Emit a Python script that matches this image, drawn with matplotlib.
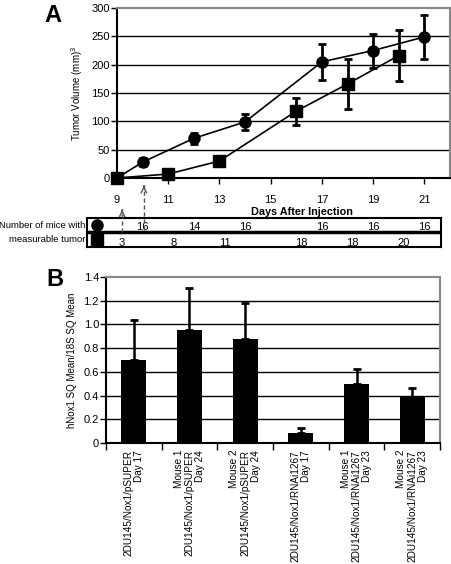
import matplotlib
matplotlib.use('Agg')
import matplotlib.pyplot as plt
from matplotlib.transforms import blended_transform_factory

# panel A: tumour volume
circle_days = [9, 10, 12, 14, 17, 19, 21]
circle_vol = [0, 28, 70, 99, 205, 225, 249]
circle_err = [0, 7, 10, 14, 32, 30, 39]
square_days = [9, 11, 13, 16, 18, 20]
square_vol = [0, 7, 30, 118, 166, 216]
square_err = [0, 0, 8, 24, 44, 45]

# mice with measurable tumour
mice_circle_days = [10, 12, 14, 17, 19, 21]
mice_circle = [16, 14, 16, 16, 16, 16]
mice_square_days = [9, 11, 13, 16, 18, 20]
mice_square = [3, 8, 11, 18, 18, 20]

# panel B: expression
groups = ['2DU145/Nox1/pSUPER\nDay 17',
          'Mouse 1\n2DU145/Nox1/pSUPER\nDay 24',
          'Mouse 2\n2DU145/Nox1/pSUPER\nDay 24',
          '2DU145/Nox1/RNAi1267\nDay 17',
          'Mouse 1\n2DU145/Nox1/RNAi1267\nDay 23',
          'Mouse 2\n2DU145/Nox1/RNAi1267\nDay 23']
nox_mean = [0.70, 0.955, 0.88, 0.085, 0.50, 0.385]
nox_err = [0.34, 0.35, 0.30, 0.045, 0.12, 0.075]

plt.rcParams['font.family'] = ['Liberation Sans', 'DejaVu Sans']

W, H = 452, 564
fig = plt.figure(figsize=(W / 100, H / 100), dpi=100)


def fy(px):
    return 1 - px / H


# ---------------- panel A ----------------
axA = fig.add_axes([117 / W, fy(178), 333 / W, 170 / H])
axA.set_xlim(9, 22)
axA.set_ylim(0, 300)
for v in range(50, 300, 50):
    axA.axhline(v, color='black', lw=1, zorder=0)
axA.errorbar(circle_days, circle_vol, yerr=circle_err, fmt='-o', color='black',
             lw=1.2, ms=8, elinewidth=2, capsize=3, capthick=2, clip_on=False, zorder=3)
axA.errorbar(square_days, square_vol, yerr=square_err, fmt='-s', color='black',
             lw=1.2, ms=8, elinewidth=2, capsize=3, capthick=2, clip_on=False, zorder=3)
axA.set_xticks(range(9, 22, 2))
axA.set_yticks(range(0, 301, 50))
axA.tick_params(axis='x', length=4, pad=8, labelsize=8, width=1)
axA.tick_params(axis='y', length=4, pad=1, labelsize=8, width=1)
axA.spines['left'].set_linewidth(1.5)
axA.spines['bottom'].set_linewidth(1.5)
for s in ['top', 'right']:
    axA.spines[s].set_color('#888888')
    axA.spines[s].set_linewidth(1.5)
axA.set_ylabel('Tumor Volume (mm)$^3$', fontsize=7, labelpad=5)
fig.text(53 / W, fy(16), 'A', fontsize=17, fontweight='bold', ha='center', va='center')
fig.text(302 / W, fy(212), 'Days After Injection', fontsize=7.8, fontweight='bold',
         ha='center', va='center')

# table of mice counts
tab = fig.add_axes([87 / W, fy(247), 354 / W, 29 / H])
tab.set_xlim(9 + (87 - 117) * 13 / 333, 9 + (441 - 117) * 13 / 333)
tab.set_ylim(0, 2)
tab.set_xticks([])
tab.set_yticks([])
for s in tab.spines.values():
    s.set_linewidth(1.5)
tab.axhline(1, color='black', lw=2.5)
tab.plot([0.028], [0.75], 'o', color='black', ms=8, transform=tab.transAxes)
tab.plot([0.028], [0.25], 's', color='black', ms=8, transform=tab.transAxes)
for d, n in zip(mice_circle_days, mice_circle):
    tab.text(d, 1.0, str(n), fontsize=8, ha='center', va='bottom')
for d, n in zip(mice_square_days, mice_square):
    tab.text(d + 0.2, -0.05, str(n), fontsize=8, ha='center', va='bottom')
fig.text(85 / W, fy(225), 'Number of mice with', fontsize=6.8, ha='right', va='center')
fig.text(85 / W, fy(240), 'measurable tumor', fontsize=6.8, ha='right', va='center')

# dashed arrows
btr = blended_transform_factory(axA.transData, fig.transFigure)
for d, y0, y1 in [(10.05, 230, 183), (9.2, 232, 207)]:
    fig.add_artist(plt.Line2D([d, d], [fy(y0), fy(y1 + 2)], transform=btr,
                              color='#555555', lw=1, ls=(0, (3, 2)), zorder=5))
    axA.annotate('', xy=(d, fy(y1)), xytext=(d, fy(y1 + 6)), xycoords=btr,
                 textcoords=btr, annotation_clip=False,
                 arrowprops=dict(arrowstyle='->', color='#555555', lw=1,
                                 mutation_scale=10))

# ---------------- panel B ----------------
axB = fig.add_axes([106 / W, fy(443), 334 / W, 166 / H])
xpos = list(range(len(groups)))
axB.set_xlim(-0.5, len(groups) - 0.5)
axB.set_ylim(0, 1.4)
for v in [0.2, 0.4, 0.6, 0.8, 1.0, 1.2]:
    axB.axhline(v, color='black', lw=1, zorder=0)
axB.bar(xpos, nox_mean, width=0.45, color='black', zorder=2)
axB.errorbar(xpos, nox_mean, yerr=[[0] * len(nox_err), nox_err], fmt='none',
             ecolor='black', elinewidth=1.8, capsize=3, capthick=2, zorder=3)
axB.set_yticks([0, 0.2, 0.4, 0.6, 0.8, 1.0, 1.2, 1.4])
axB.set_yticklabels(['0', '0.2', '0.4', '0.6', '0.8', '1.0', '1.2', '1.4'])
axB.set_xticks(xpos)
axB.set_xticklabels(groups, rotation=90, fontsize=7.2, ha='center', va='top',
                    multialignment='right', linespacing=1.1)
axB.set_xticks([x - 0.5 for x in range(len(groups) + 1)], minor=True)
axB.tick_params(axis='x', which='major', length=0, pad=5)
axB.tick_params(axis='x', which='minor', length=5, width=1)
axB.tick_params(axis='y', length=4, pad=1, labelsize=8, width=1)
axB.spines['left'].set_linewidth(1.5)
axB.spines['bottom'].set_linewidth(1.5)
for s in ['top', 'right']:
    axB.spines[s].set_color('#888888')
    axB.spines[s].set_linewidth(1.5)
axB.set_ylabel('hNox1 SQ Mean/18S SQ Mean', fontsize=7, labelpad=5)
fig.text(55 / W, fy(279), 'B', fontsize=17, fontweight='bold', ha='center', va='center')

fig.savefig('out.png', dpi=100)
